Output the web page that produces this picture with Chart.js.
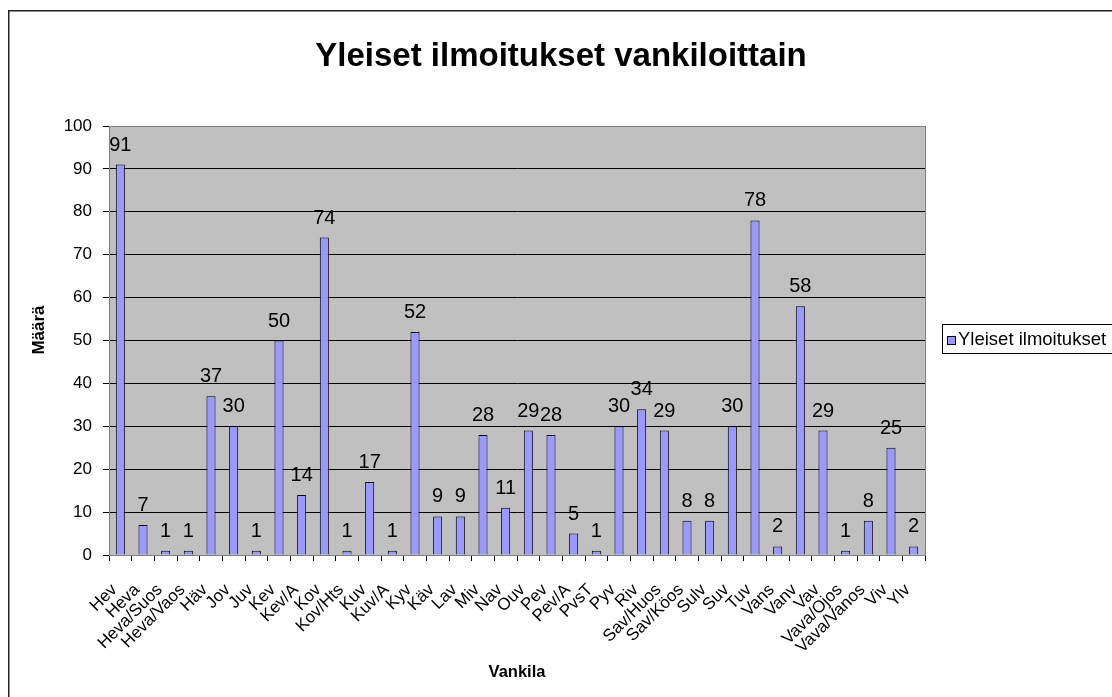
<!DOCTYPE html>
<html>
<head>
<meta charset="utf-8">
<script src="https://cdn.jsdelivr.net/npm/chart.js@4/dist/chart.umd.min.js"></script>
<style>
html,body{margin:0;padding:0;background:#fff;}
canvas{display:block;}
</style>
</head>
<body>
<canvas id="c" width="1112" height="697"></canvas>
<script>
const categories = ["Hev","Heva","Heva/Suos","Heva/Vaos","Häv","Jov","Juv","Kev","Kev/A","Kov","Kov/Hts","Kuv","Kuv/A","Kyv","Käv","Lav","Miv","Nav","Ouv","Pev","Pev/A","PvsT","Pyv","Riv","Sav/Huos","Sav/Köos","Sulv","Suv","Tuv","Vans","Vanv","Vav","Vava/Ojos","Vava/Vanos","Viv","Ylv"];
const values = [91,7,1,1,37,30,1,50,14,74,1,17,1,52,9,9,28,11,29,28,5,1,30,34,29,8,8,30,78,2,58,29,1,8,25,2];
const seriesName = "Yleiset ilmoitukset";
const chartTitle = "Yleiset ilmoitukset vankiloittain";
const xTitle = "Vankila";
const yTitle = "Määrä";
const yTicks = [0,10,20,30,40,50,60,70,80,90,100];

const FONT = "'Liberation Sans', Arial, sans-serif";
const BAR_FILL = "#9999FF";

const decor = {
  id: 'decor',
  beforeDraw(chart) {
    const {ctx, chartArea: a} = chart;
    ctx.save();
    ctx.fillStyle = '#C0C0C0';
    ctx.fillRect(a.left, a.top, a.right - a.left, a.bottom - a.top);
    ctx.fillStyle = '#000';
    ctx.font = "bold 33px " + FONT;
    ctx.textAlign = 'center';
    ctx.textBaseline = 'middle';
    ctx.fillText(chartTitle, 561, 57);
    // y axis title
    ctx.save();
    ctx.translate(39, 330);
    ctx.rotate(-Math.PI / 2);
    ctx.font = "bold 17px " + FONT;
    ctx.fillText(yTitle, 0, 0);
    ctx.restore();
    ctx.restore();
  },
  afterDatasetsDraw(chart) {
    const {ctx, chartArea: a} = chart;
    ctx.save();
    ctx.strokeStyle = '#808080';
    ctx.lineWidth = 1;
    ctx.strokeRect(Math.round(a.left) + 0.5, Math.round(a.top) + 0.5, Math.round(a.right - a.left), Math.round(a.bottom - a.top));
    const meta = chart.getDatasetMeta(0);
    ctx.fillStyle = '#000';
    ctx.font = "20px " + FONT;
    ctx.textAlign = 'center';
    ctx.textBaseline = 'alphabetic';
    meta.data.forEach((bar, i) => {
      ctx.fillText(String(chart.data.datasets[0].data[i]), bar.x, bar.y - 14);
    });
    ctx.restore();
  },
  afterDraw(chart) {
    const {ctx} = chart;
    ctx.save();
    ctx.strokeStyle = '#222';
    ctx.lineWidth = 1.5;
    ctx.strokeRect(8.75, 10.75, 1200, 800);
    ctx.strokeStyle = '#000';
    ctx.lineWidth = 1;
    ctx.fillStyle = '#fff';
    ctx.fillRect(942.5, 324.5, 200, 29);
    ctx.strokeRect(942.5, 324.5, 200, 29);
    ctx.fillStyle = BAR_FILL;
    ctx.fillRect(947.5, 336.5, 8, 8);
    ctx.strokeRect(947.5, 336.5, 8, 8);
    ctx.fillStyle = '#000';
    ctx.font = "18.5px " + FONT;
    ctx.textAlign = 'left';
    ctx.textBaseline = 'middle';
    ctx.fillText(seriesName, 958, 340);
    ctx.restore();
  }
};

new Chart(document.getElementById('c'), {
  type: 'bar',
  data: {
    labels: categories,
    datasets: [{
      label: seriesName,
      data: values,
      backgroundColor: BAR_FILL,
      borderColor: '#000',
      borderWidth: 1,
      barPercentage: 0.4,
      categoryPercentage: 1.0
    }]
  },
  options: {
    responsive: false,
    animation: false,
    layout: { padding: { left: 0, right: 187, top: 126, bottom: 0 } },
    plugins: {
      legend: { display: false },
      tooltip: { enabled: false },
      title: { display: false }
    },
    scales: {
      x: {
        grid: { display: true, drawOnChartArea: false, drawTicks: true, tickLength: 6, color: '#000', offset: true },
        border: { display: true, color: '#000', width: 1 },
        ticks: {
          color: '#000',
          font: { family: FONT, size: 17 },
          minRotation: 45, maxRotation: 45,
          autoSkip: false,
          padding: 19,
          labelOffset: -6
        },
        title: {
          display: true, text: xTitle, color: '#000',
          font: { family: FONT, size: 16.5, weight: 'bold', lineHeight: 1.2 },
          padding: { top: 0, bottom: 15 }
        },
        afterFit(scale) { scale.height = 142; }
      },
      y: {
        min: 0, max: 100,
        afterBuildTicks(scale) { scale.ticks = yTicks.map(v => ({ value: v })); },
        grid: { color: '#000', lineWidth: 1, tickLength: 6, drawTicks: true },
        border: { display: true, color: '#000', width: 1 },
        ticks: {
          color: '#000',
          font: { family: FONT, size: 17 },
          padding: 11
        },
        title: { display: false },
        afterFit(scale) { scale.width = 109; }
      }
    }
  },
  plugins: [decor]
});
</script>
</body>
</html>
